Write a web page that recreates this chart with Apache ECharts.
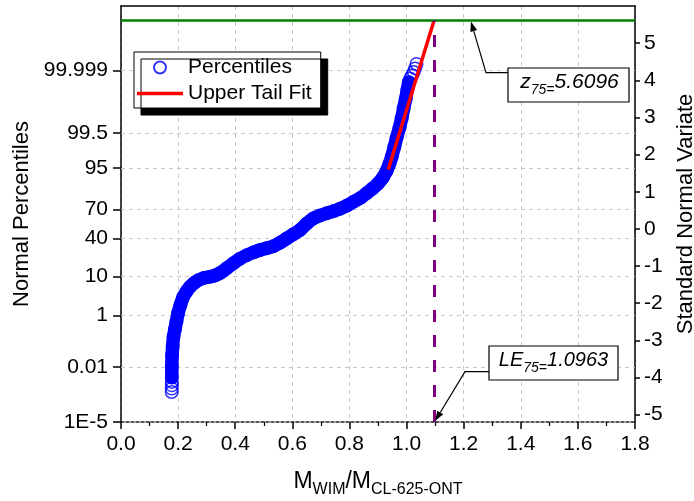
<!DOCTYPE html>
<html><head><meta charset="utf-8">
<script src="https://cdn.jsdelivr.net/npm/echarts@6/dist/echarts.min.js"></script>
<style>html,body{margin:0;padding:0;background:#fff}#c{width:694px;height:501px}</style>
</head><body><div id="c"></div>
<script>
const FONT = "'Liberation Sans', Arial, Helvetica, sans-serif";

// ---- data (x = M_WIM/M_CL-625-ONT, z = standard normal variate) ----
const pctX = [0.1775,0.1775,0.178,0.178,
  0.178,0.178,0.179,0.181,0.184,0.189,0.194,0.2,0.208,0.218,
  0.23,0.242,0.256,0.271,0.29,0.312,0.33,0.347,0.37,0.393,
  0.415,0.44,0.465,0.487,0.51,0.533,0.555,0.58,0.605,0.627,
  0.65,0.673,0.697,0.72,0.745,0.767,0.79,0.814,0.84,0.86,
  0.88,0.9,0.917,0.93,0.94,0.948,0.957,0.965,0.975,0.983,
  0.99,0.997,1.003,1.008,
  1.013,1.019,1.025,1.03,1.035];
const pctZ = [-4.39,-4.30,-4.21,-4.12,
  -4.0,-3.7,-3.4,-3.15,-2.9,-2.7,-2.5,-2.27,-2.05,-1.83,
  -1.68,-1.56,-1.46,-1.38,-1.32,-1.29,-1.25,-1.19,-1.06,-0.93,
  -0.81,-0.71,-0.63,-0.57,-0.52,-0.47,-0.38,-0.26,-0.14,-0.03,
  0.14,0.28,0.36,0.42,0.48,0.54,0.62,0.73,0.84,0.96,
  1.08,1.22,1.38,1.56,1.75,1.94,2.2,2.45,2.72,2.98,
  3.25,3.5,3.75,3.95,
  4.05,4.13,4.22,4.32,4.44];
const bandFirst = 4, bandLast = 57;           // indices of the continuous dense band
const tailFitX = [0.936, 1.0963];
const tailFitZ = [1.6, 5.6096];
const z75 = 5.6096;
const LE75 = 1.0963;

const leftTickLabels = ['1E-5','0.01','1','10','40','70','95','99.5','99.999'];
const leftTickZ = [-5.1993,-3.7190,-2.3263,-1.2816,-0.2533,0.5244,1.6449,2.5758,4.2649];
const rightTicks = [-5,-4,-3,-2,-1,0,1,2,3,4,5];
const xMin = 0, xMax = 1.8, xStep = 0.2;
const zMin = -5.1993, zMax = 6;

const pctPts = pctX.map((x,i)=>[x,pctZ[i]]);
const bandPts = pctPts.slice(bandFirst, bandLast+1);
const tailPts = tailFitX.map((x,i)=>[x,tailFitZ[i]]);

const chart = echarts.init(document.getElementById('c'), null, {renderer:'canvas'});
const axisLineStyle = {color:'#000', width:1.5};
const gridStyle = {color:'#c8c8c8', width:1, type:[4,4]};

chart.setOption({
  animation:false,
  backgroundColor:'#fff',
  textStyle:{fontFamily:FONT},
  grid:{left:121, right:59, top:6, bottom:79, containLabel:false, outerBoundsMode:'none'},
  legend:{
    orient:'vertical', left:134, top:52,
    padding:[5,9,4,3], itemGap:5, itemWidth:46, itemHeight:12,
    backgroundColor:'#fff', borderColor:'#000', borderWidth:1,
    shadowColor:'#000', shadowBlur:0, shadowOffsetX:7, shadowOffsetY:7,
    textStyle:{fontSize:21, color:'#000', fontFamily:FONT},
    data:[
      {name:'Percentiles', icon:'circle', itemStyle:{color:'rgba(0,0,0,0)', borderColor:'#0000ff', borderWidth:2}},
      {name:'Upper Tail Fit', icon:'path://M0 0 H46 V3.5 H0 Z', itemStyle:{color:'#ff0000', borderWidth:0}}
    ]
  },
  xAxis:[{
    type:'value', min:xMin, max:xMax, interval:xStep, position:'bottom',
    axisLine:{show:true, onZero:false, lineStyle:{color:'#222', width:1.5, type:[3,2]}},
    axisTick:{show:true, inside:false, length:7, lineStyle:{color:'#000', width:1.5}},
    minorTick:{show:true, splitNumber:2, length:4, lineStyle:{color:'#000', width:1.2}},
    axisLabel:{fontSize:21, color:'#000', margin:12, fontFamily:FONT, formatter:v=>v.toFixed(1)},
    splitLine:{show:true, lineStyle:gridStyle}
  },{
    type:'value', min:xMin, max:xMax, position:'top',
    axisLine:{show:true, onZero:false, lineStyle:axisLineStyle},
    axisTick:{show:false}, axisLabel:{show:false}, splitLine:{show:false}
  }],
  yAxis:[{
    type:'value', min:zMin, max:zMax, position:'left',
    name:'Normal Percentiles', nameLocation:'middle', nameGap:79,
    nameTextStyle:{fontSize:22, color:'#000', fontFamily:FONT},
    axisLine:{show:true, onZero:false, lineStyle:axisLineStyle},
    axisTick:{show:true, length:8, customValues:leftTickZ, lineStyle:{color:'#000', width:1.5}},
    axisLabel:{fontSize:21, color:'#000', margin:13, fontFamily:FONT, customValues:leftTickZ,
      formatter:function(v){let b=0;for(let i=1;i<leftTickZ.length;i++){if(Math.abs(leftTickZ[i]-v)<Math.abs(leftTickZ[b]-v))b=i;}return leftTickLabels[b];}},
    splitLine:{show:false}
  },{
    type:'value', min:zMin, max:zMax, position:'right',
    name:'Standard Normal Variate', nameLocation:'middle', nameGap:40,
    nameTextStyle:{fontSize:22, color:'#000', fontFamily:FONT},
    axisLine:{show:true, onZero:false, lineStyle:axisLineStyle},
    axisTick:{show:true, length:5, customValues:rightTicks, lineStyle:{color:'#000', width:1.5}},
    axisLabel:{fontSize:21, color:'#000', margin:9, fontFamily:FONT, customValues:rightTicks,
      formatter:v=>String(Math.round(v))},
    splitLine:{show:false}
  }],
  series:[
    { // dense band of overlapping percentile circles
      type:'line', name:'band', data:bandPts, xAxisIndex:0, yAxisIndex:0,
      symbol:'none', smooth:0.3, silent:true, z:2,
      lineStyle:{color:'#0000ff', width:13.5, cap:'round', join:'round'},
      markLine:{
        silent:true, symbol:'none', z:1, label:{show:false},
        lineStyle:gridStyle,
        data:leftTickZ.slice(1).map(z=>({yAxis:z}))
      }
    },
    {
      type:'scatter', name:'Percentiles', data:pctPts, xAxisIndex:0, yAxisIndex:0,
      symbol:'circle', symbolSize:12.5, z:3,
      itemStyle:{color:'rgba(0,0,0,0)', borderColor:'#0000ff', borderWidth:1.5}
    },
    {
      type:'line', name:'Upper Tail Fit', data:tailPts, xAxisIndex:0, yAxisIndex:0,
      symbol:'none', z:4,
      lineStyle:{color:'#ff0000', width:3.5},
      itemStyle:{color:'#ff0000'},
      markLine:{
        silent:true, symbol:'none', z:5, label:{show:false},
        data:[
          {yAxis:z75, lineStyle:{color:'#008000', width:2.5, type:'solid'}},
          [{coord:[LE75, zMin], lineStyle:{color:'#800080', width:3, type:[12,13]}},{coord:[LE75, z75]}]
        ]
      }
    }
  ]
});

// ---- annotations & x title (texts with subscripts) ----
const mctx = document.createElement('canvas').getContext('2d');
function tw(t, font){ mctx.font = font; return mctx.measureText(t).width; }
function fontOf(p){ return (p.italic?'italic ':'') + p.size + 'px ' + FONT; }
function lineWidth(parts){ return parts.reduce((s,p)=>s+tw(p.t, fontOf(p)),0); }
function textLine(parts, x0, baseline){
  const els=[]; let x=x0;
  parts.forEach(p=>{
    const f = fontOf(p);
    const b = baseline + (p.drop||0);
    els.push({type:'text', z:110, style:{text:p.t, x:x, y:b-0.35*p.size, font:f, fill:'#000',
      textAlign:'left', textVerticalAlign:'middle', verticalAlign:'middle'}});
    x += tw(p.t, f);
  });
  return els;
}
function arrow(pts){
  const n=pts.length, tip=pts[n-1], prev=pts[n-2];
  const dx=tip[0]-prev[0], dy=tip[1]-prev[1], L=Math.hypot(dx,dy), ux=dx/L, uy=dy/L;
  const hl=10, hw=3.5, bx=tip[0]-ux*hl, by=tip[1]-uy*hl;
  return [
    {type:'polyline', z:105, shape:{points:pts.slice(0,n-1).concat([[bx,by]])}, style:{stroke:'#000', lineWidth:1.2, fill:null}},
    {type:'polygon', z:105, shape:{points:[tip,[bx-uy*hw,by+ux*hw],[bx+uy*hw,by-ux*hw]]}, style:{fill:'#000'}}
  ];
}
const P = (x,z)=>chart.convertToPixel({xAxisIndex:0, yAxisIndex:0},[x,z]);
const els=[];

// z75 box
const zBox={x:508,y:68,w:121,h:34};
const zParts=[{t:'z',size:21,italic:true},{t:'75=',size:14,italic:true,drop:5},{t:'5.6096',size:21,italic:true}];
els.push({type:'rect', z:104, shape:{x:zBox.x,y:zBox.y,width:zBox.w,height:zBox.h}, style:{fill:'#fff',stroke:'#000',lineWidth:1.2}});
els.push(...textLine(zParts, zBox.x+zBox.w/2-lineWidth(zParts)/2+1, zBox.y+22));
const zTip=P(1.2255, z75);
els.push(...arrow([[zBox.x,72.7],[486,72.7],[zTip[0],zTip[1]+1]]));

// LE75 box
const lBox={x:489,y:346,w:129,h:34};
const lParts=[{t:'LE',size:20,italic:true},{t:'75=',size:14,italic:true,drop:5.5},{t:'1.0963',size:20,italic:true}];
els.push({type:'rect', z:104, shape:{x:lBox.x,y:lBox.y,width:lBox.w,height:lBox.h}, style:{fill:'#fff',stroke:'#000',lineWidth:1.2}});
els.push(...textLine(lParts, lBox.x+lBox.w/2-lineWidth(lParts)/2, lBox.y+21.5));
const lTip=P(LE75, zMin);
els.push(...arrow([[lBox.x,371.7],[465,371.7],[lTip[0]+1,lTip[1]-1]]));

// x-axis title
const xParts=[{t:'M',size:23},{t:'WIM',size:16,drop:5},{t:'/M',size:23},{t:'CL-625-ONT',size:16,drop:5}];
const cx=(P(xMin,0)[0]+P(xMax,0)[0])/2;
els.push(...textLine(xParts, cx-lineWidth(xParts)/2, 490));

chart.setOption({graphic:els});
</script>
</body></html>
